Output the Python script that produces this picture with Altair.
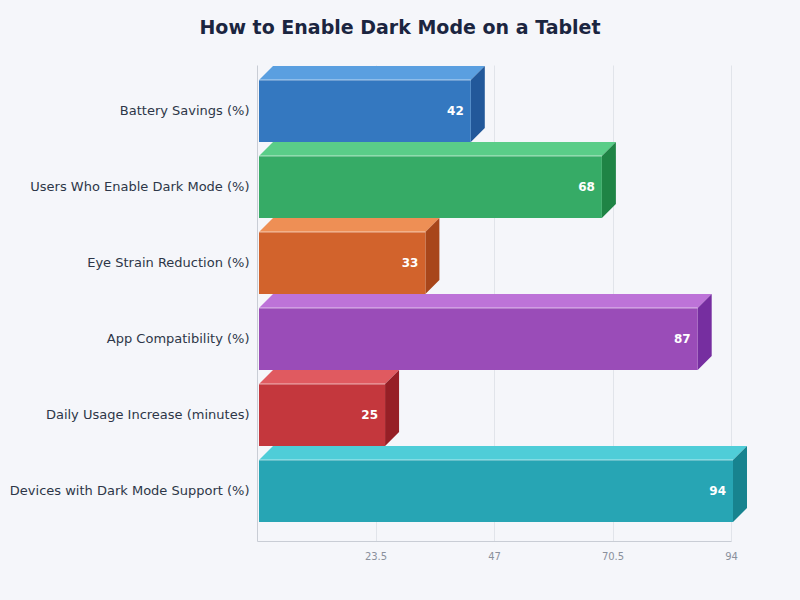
import altair as alt
import pandas as pd

categories = [
    "Battery Savings (%)",
    "Users Who Enable Dark Mode (%)",
    "Eye Strain Reduction (%)",
    "App Compatibility (%)",
    "Daily Usage Increase (minutes)",
    "Devices with Dark Mode Support (%)",
]
values = [42, 68, 33, 87, 25, 94]
front_colors = ["#3478c0", "#36ab66", "#d2632c", "#9a4cb8", "#c4373d", "#27a5b4"]
top_colors = ["#5a9fe0", "#5acd88", "#ee8f55", "#bd73d8", "#e05a60", "#4fcdd8"]
side_colors = ["#22589a", "#1f8445", "#a8461a", "#762ea0", "#961f26", "#17838f"]
tick_values = [23.5, 47, 70.5, 94]

# geometry helpers (in data units)
W, H = 474, 476
XMAX = 94
YDOM = [-0.605, 5.658]
px_x = XMAX / W
px_y = (YDOM[1] - YDOM[0]) / H
DX = 14 * px_x
DY = 14 * px_y
HALF = 31 * px_y
OFF = 2  # small gap between axis and bars, pixels

front_rows, top_rows, side_rows = [], [], []
for i, (c, v) in enumerate(zip(categories, values)):
    t, b = i - HALF, i + HALF
    front_rows.append(dict(cat=c, idx=i, x0=0, x1=v, y0=t, y1=b, col=front_colors[i], label=str(v)))
    for x, y, y2 in [(0, t, t), (DX, t, t - DY), (v, t, t - DY), (v + DX, t - DY, t - DY)]:
        top_rows.append(dict(cat=c, x=x, y=y, y2=y2, col=top_colors[i]))
    for x, y, y2 in [(v, b, t), (v + DX, b - DY, t - DY)]:
        side_rows.append(dict(cat=c, x=x, y=y, y2=y2, col=side_colors[i]))

front = pd.DataFrame(front_rows)
top = pd.DataFrame(top_rows)
side = pd.DataFrame(side_rows)

label_expr = "[" + ",".join("'" + c + "'" for c in categories) + "][datum.value]"

xscale = alt.Scale(domain=[0, XMAX], nice=False, zero=True)
yscale = alt.Scale(domain=YDOM, reverse=True, nice=False, zero=False)

x_axis = alt.Axis(values=tick_values, labelExpr="'' + datum.value", title=None, grid=True,
                  gridColor="#e1e4ea", domainColor="#c9cdd5", ticks=False, labelColor="#8a909c",
                  labelFontSize=10, labelPadding=10, labelFont="DejaVu Sans",
                  labelFlush=False, labelOverlap=False, labelBound=False)
y_axis = alt.Axis(values=list(range(len(categories))), labelExpr=label_expr, title=None,
                  grid=False, ticks=False, domainColor="#c9cdd5", labelColor="#2d3648",
                  labelFontSize=13, labelPadding=8, labelFont="DejaVu Sans", labelLimit=0)

top_layer = alt.Chart(top).mark_area(orient="vertical", interpolate="linear", xOffset=OFF).encode(
    x=alt.X("x:Q", scale=xscale, axis=x_axis),
    y=alt.Y("y:Q", scale=yscale, axis=y_axis, stack=None),
    y2="y2:Q",
    color=alt.Color("col:N", scale=None),
    detail="cat:N",
)

side_layer = alt.Chart(side).mark_area(orient="vertical", interpolate="linear", xOffset=OFF).encode(
    x=alt.X("x:Q", scale=xscale),
    y=alt.Y("y:Q", scale=yscale, stack=None),
    y2="y2:Q",
    color=alt.Color("col:N", scale=None),
    detail="cat:N",
)

front_layer = alt.Chart(front).mark_rect(xOffset=OFF, x2Offset=OFF).encode(
    x=alt.X("x0:Q", scale=xscale),
    x2="x1:Q",
    y=alt.Y("y0:Q", scale=yscale),
    y2="y1:Q",
    color=alt.Color("col:N", scale=None),
)

highlight = alt.Chart(front).mark_rule(color="white", opacity=0.6, strokeWidth=1,
                                       xOffset=OFF, x2Offset=OFF).encode(
    x=alt.X("x0:Q", scale=xscale),
    x2="x1:Q",
    y=alt.Y("y0:Q", scale=yscale),
)

text_layer = alt.Chart(front).mark_text(
    align="right", baseline="middle", dx=-7 + OFF, color="white",
    fontWeight="bold", fontSize=12, font="DejaVu Sans",
).encode(
    x=alt.X("x1:Q", scale=xscale),
    y=alt.Y("idx:Q", scale=yscale),
    text="label:N",
)

chart = alt.layer(top_layer, side_layer, front_layer, highlight, text_layer).properties(
    width=W,
    height=H,
    background="#f5f6fa",
    autosize=alt.AutoSizeParams(type="none"),
    padding={"left": 257, "top": 65, "right": 69, "bottom": 59},
    title=alt.TitleParams(
        "How to Enable Dark Mode on a Tablet", anchor="middle", dx=-94, offset=27,
        fontSize=19, font="DejaVu Sans", fontWeight="bold", color="#1b2540",
    ),
).configure_view(stroke=None)

chart.save("out.html", embed_options={"renderer": "svg", "actions": False})
